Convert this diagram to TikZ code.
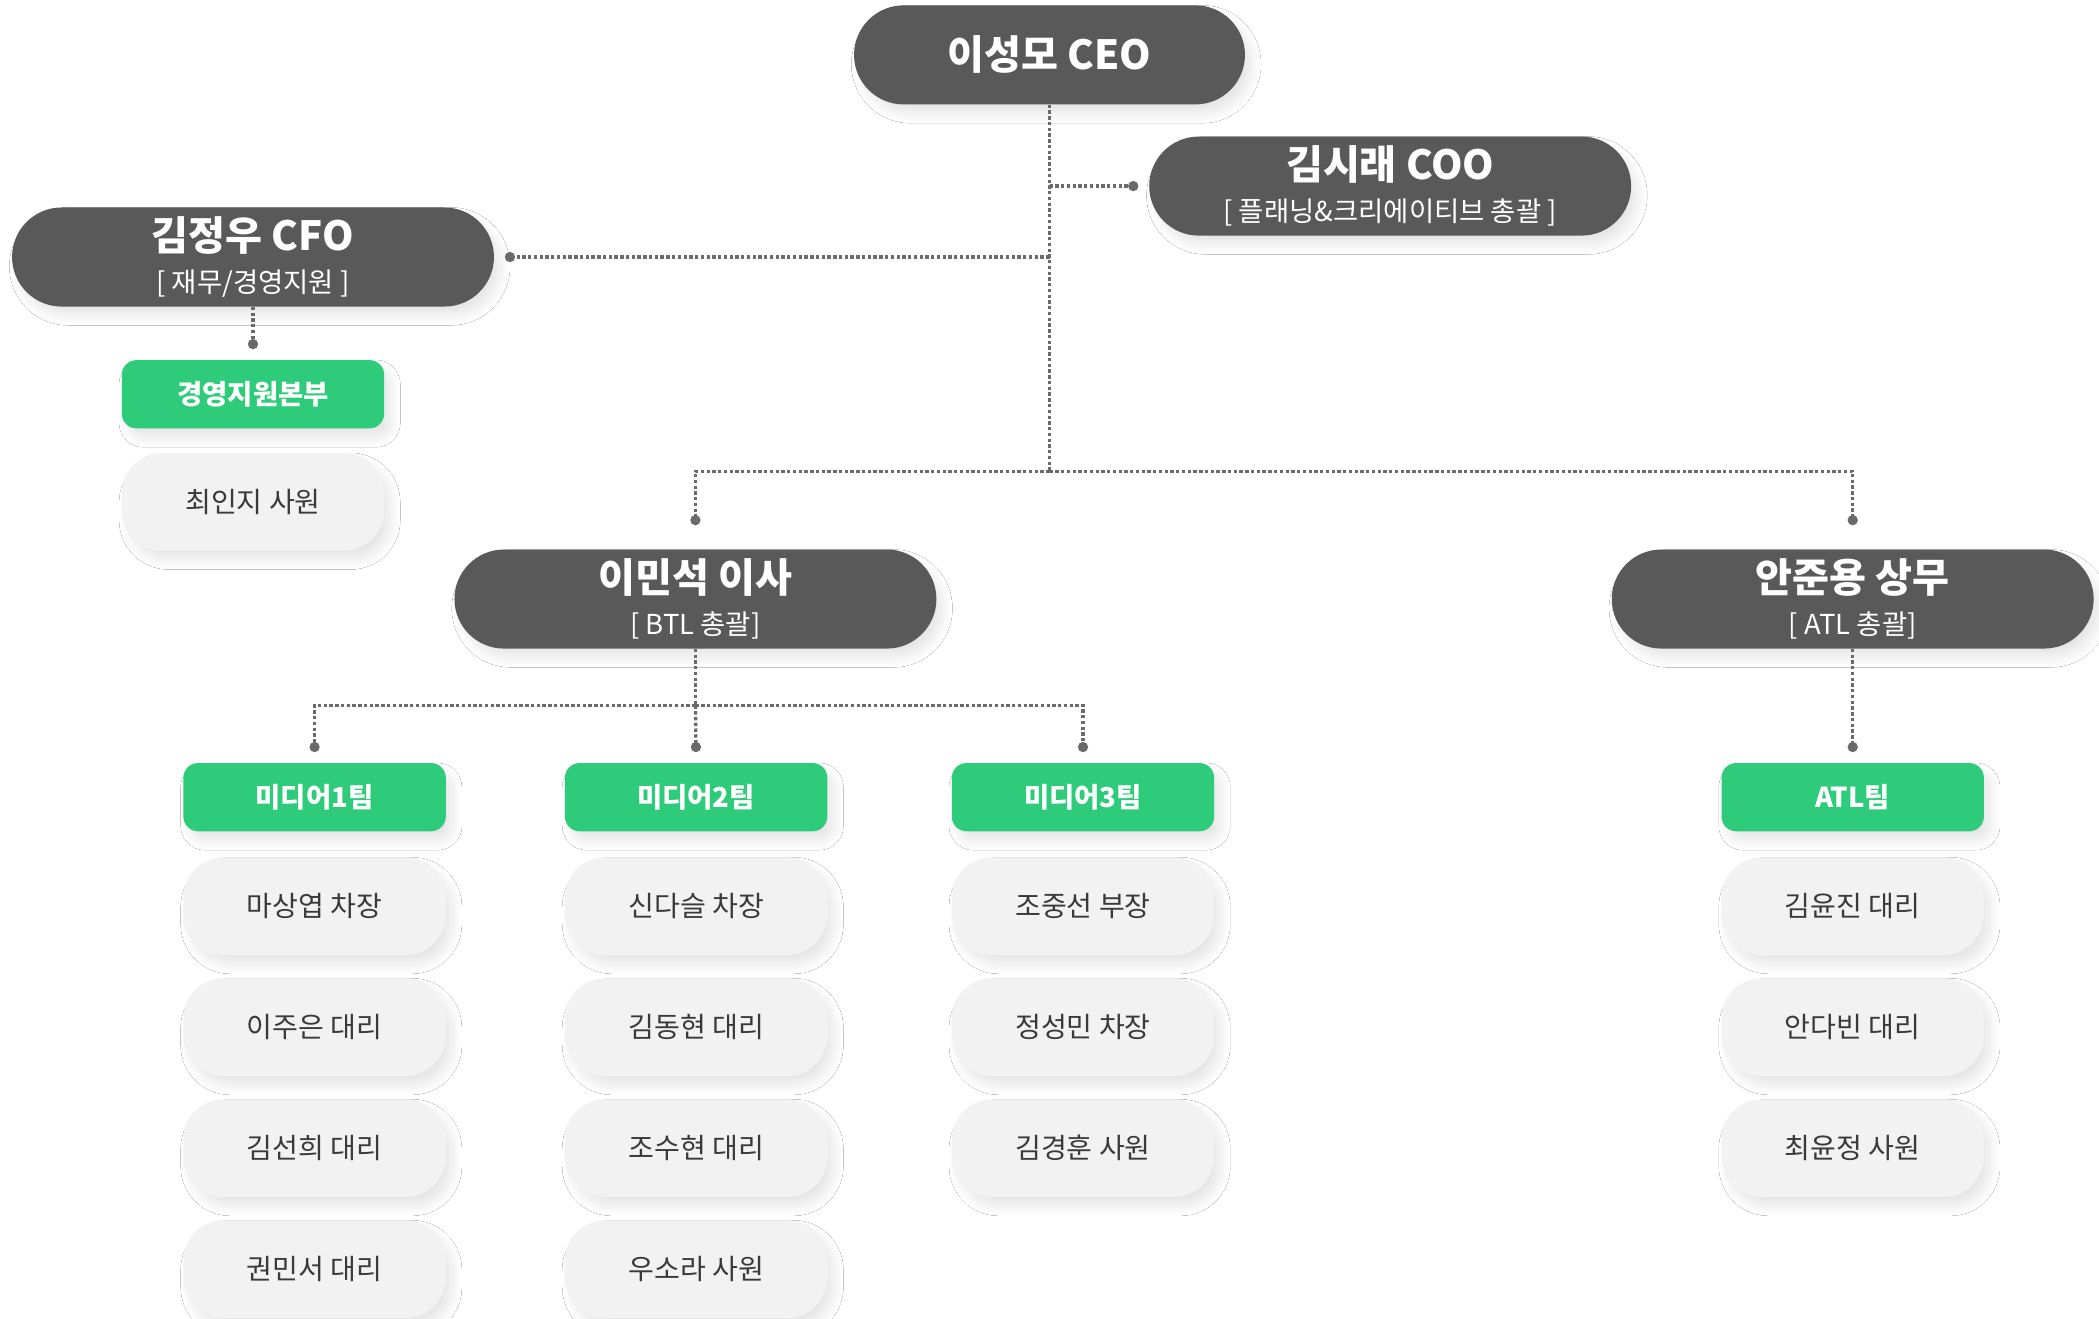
\documentclass[tikz,border=0pt]{standalone}
\usepackage{fontspec}
\setmainfont{Noto Sans CJK KR}
\usetikzlibrary{positioning,arrows.meta,shadows.blur}

\definecolor{bossgray}{HTML}{595959}
\definecolor{teamgreen}{HTML}{2ECC7A}
\definecolor{staffgray}{HTML}{F2F2F2}
\definecolor{staffink}{HTML}{3A3A3A}
\definecolor{linkgray}{HTML}{6A6A6A}

\newcommand{\bossname}[2]{{\fontsize{30}{31}\selectfont\bfseries #1}\\\relax #2}

\tikzset{
  softshadow/.style={blur shadow={shadow xshift=5pt, shadow yshift=-7pt, shadow blur radius=7pt,
    shadow blur steps=20, shadow opacity=10}},
  boss/.style={fill=bossgray, text=white, rounded corners=37pt, minimum width=360pt, minimum height=74pt,
    inner sep=0pt, align=center, font=\fontsize{20.5}{31}\selectfont, softshadow},
  team/.style={fill=teamgreen, text=white, rounded corners=11pt, minimum width=196pt, minimum height=51pt,
    inner sep=0pt, font=\fontsize{20.5}{22}\selectfont\bfseries, softshadow},
  staff/.style={fill=staffgray, text=staffink, rounded corners=30pt, minimum width=196pt, minimum height=73pt,
    inner sep=0pt, font=\fontsize{21}{22}\selectfont, softshadow},
  link/.style={draw=linkgray, line width=2.5pt, dash pattern=on 2.5pt off 1.8pt},
  tipdot/.style={-{Circle[length=7.5pt]}, shorten >=#1},
}

\begin{document}
\begin{tikzpicture}[x=1pt, y=-1pt]
\path[use as bounding box, fill=white] (0,0) rectangle (1568,985);

% executives
\node[boss, minimum width=292pt, font=\fontsize{30}{31}\selectfont\bfseries] (ceo) at (784,41) {이성모 CEO};
\node[boss] (coo) at (1038.5,139) {\bossname{김시래 COO}{[ 플래닝\&크리에이티브 총괄 ]}};
\node[boss] (cfo) at (189,192) {\bossname{김정우 CFO}{[ 재무/경영지원 ]}};
\node[boss] (lee) at (519.5,447.5) {\bossname{이민석 이사}{[ BTL 총괄]}};
\node[boss] (ahn) at (1384,447.5) {\bossname{안준용 상무}{[ ATL 총괄]}};

% teams
\node[team] (mgmt) at (189,294.5) {경영지원본부};
\node[team] (media1) at (235,595.5) {미디어1팀};
\node[team] (media2) at (520,595.5) {미디어2팀};
\node[team] (media3) at (809,595.5) {미디어3팀};
\node[team] (atl) at (1384,595.5) {ATL팀};

% staff
\node[staff, below=18pt of mgmt] (choi) {최인지 사원};

\node[staff, below=19pt of media1] (ma) {마상엽 차장};
\node[staff, below=17pt of ma] (leej) {이주은 대리};
\node[staff, below=17pt of leej] (kimsh) {김선희 대리};
\node[staff, below=17pt of kimsh] (kwon) {권민서 대리};

\node[staff, below=19pt of media2] (shin) {신다슬 차장};
\node[staff, below=17pt of shin] (kimdh) {김동현 대리};
\node[staff, below=17pt of kimdh] (cho) {조수현 대리};
\node[staff, below=17pt of cho] (woo) {우소라 사원};

\node[staff, below=19pt of media3] (jo) {조중선 부장};
\node[staff, below=17pt of jo] (jung) {정성민 차장};
\node[staff, below=17pt of jung] (kimkh) {김경훈 사원};

\node[staff, below=19pt of atl] (kimyj) {김윤진 대리};
\node[staff, below=17pt of kimyj] (an) {안다빈 대리};
\node[staff, below=17pt of an] (choiyj) {최윤정 사원};

% connectors
\coordinate (hubline) at (0,352);
\coordinate (busline) at (0,527);
\draw[link] (ceo.south) -- (ceo.south |- hubline) coordinate (hub);
\draw[link, tipdot=8pt] (ceo.south |- coo.west) -- (coo.west);
\draw[link, tipdot=8pt] (ceo.south |- cfo.east) -- (cfo.east);
\draw[link, tipdot=18pt] (hub) -| (lee.north);
\draw[link, tipdot=18pt] (hub) -| (ahn.north);
\draw[link, tipdot=8pt] (cfo.south) -- (mgmt.north);
\draw[link, tipdot=8pt] (ahn.south) -- (atl.north);
\draw[link] (lee.south) -- (lee.south |- busline) coordinate (bus);
\draw[link, tipdot=8pt] (bus) -| (media1.north);
\draw[link, tipdot=8pt] (bus) -- (media2.north);
\draw[link, tipdot=8pt] (bus) -| (media3.north);
\end{tikzpicture}
\end{document}
